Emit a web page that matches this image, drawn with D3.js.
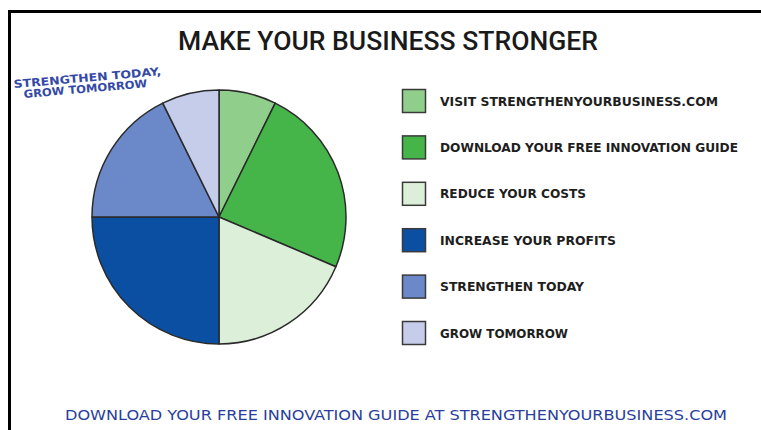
<!DOCTYPE html>
<html>
<head>
<meta charset="utf-8">
<script src="https://cdn.jsdelivr.net/npm/d3@7"></script>
<style>
  body { margin: 0; background: #fff; }
  svg { display: block; }
</style>
</head>
<body>
<div id="chart"></div>
<script>
// data
let categories = ["VISIT STRENGTHENYOURBUSINESS.COM", "DOWNLOAD YOUR FREE INNOVATION GUIDE",
  "REDUCE YOUR COSTS", "INCREASE YOUR PROFITS", "STRENGTHEN TODAY", "GROW TOMORROW"];
let values = [7.3, 24.1, 18.6, 25, 17.7, 7.3];
let colors = ["#8fcf8b", "#45b54a", "#dcefd8", "#0b4fa3", "#6b88c9", "#c6cdea"];
let title = "MAKE YOUR BUSINESS STRONGER";
let note = ["STRENGTHEN TODAY,", "GROW TOMORROW"];
let footer = "DOWNLOAD YOUR FREE INNOVATION GUIDE AT STRENGTHENYOURBUSINESS.COM";

let width = 761, height = 430;
let cx = 219, cy = 217, radius = 127;

let data = categories.map((c, i) => ({name: c, value: values[i], color: colors[i]}));

let svg = d3.select("#chart").append("svg")
  .attr("width", width)
  .attr("height", height);

// frame (runs off the right and bottom)
svg.append("path")
  .attr("d", "M9.5," + (height + 5) + "V11.5H" + (width + 5))
  .attr("fill", "none")
  .attr("stroke", "#000")
  .attr("stroke-width", 3);

// title
svg.append("text")
  .attr("x", 178).attr("y", 50)
  .attr("textLength", 420).attr("lengthAdjust", "spacingAndGlyphs")
  .attr("font-family", "Roboto, DejaVu Sans Condensed")
  .attr("font-weight", 500)
  .attr("font-size", 25)
  .attr("fill", "#1a1a1a")
  .text(title);

// pie
let pie = d3.pie().sort(null).value(d => d.value);
let arc = d3.arc().innerRadius(0).outerRadius(radius);

svg.append("g")
  .attr("transform", "translate(" + cx + "," + cy + ")")
  .selectAll("path")
  .data(pie(data))
  .join("path")
  .attr("d", arc)
  .attr("fill", d => d.data.color)
  .attr("stroke", "#2a2a2a")
  .attr("stroke-width", 1.5)
  .attr("stroke-linejoin", "round");

// legend
let y = d3.scalePoint().domain(categories).range([101, 333]);
let lg = svg.append("g").selectAll("g")
  .data(data)
  .join("g")
  .attr("transform", d => "translate(402," + y(d.name) + ")");

lg.append("rect")
  .attr("x", 0.5).attr("y", -11.5)
  .attr("width", 23).attr("height", 23)
  .attr("fill", d => d.color)
  .attr("stroke", "#3a3a3a")
  .attr("stroke-width", 1.5);

let legendWidths = [278, 298, 146, 176, 144, 128];
lg.append("text")
  .attr("x", 38).attr("y", 4.5)
  .attr("textLength", (d, i) => legendWidths[i])
  .attr("lengthAdjust", "spacingAndGlyphs")
  .attr("font-family", "DejaVu Sans Condensed, DejaVu Sans")
  .attr("font-weight", "bold")
  .attr("font-size", 12)
  .attr("fill", "#1e1e1e")
  .text(d => d.name);

// handwritten note
let hand = svg.append("g")
  .attr("font-family", "DejaVu Sans Condensed, DejaVu Sans")
  .attr("font-weight", "bold")
  .attr("font-size", 11)
  .attr("fill", "#3449a6");
hand.append("text")
  .attr("transform", "translate(14,88) rotate(-5)")
  .attr("textLength", 148).attr("lengthAdjust", "spacingAndGlyphs")
  .text(note[0]);
hand.append("text")
  .attr("transform", "translate(24,98) rotate(-5)")
  .attr("textLength", 124).attr("lengthAdjust", "spacingAndGlyphs")
  .text(note[1]);

// footer
svg.append("text")
  .attr("x", 65).attr("y", 420)
  .attr("textLength", 662).attr("lengthAdjust", "spacingAndGlyphs")
  .attr("font-family", "DejaVu Sans Condensed, DejaVu Sans")
  .attr("font-size", 13.5)
  .attr("fill", "#2a3f9c")
  .text(footer);
</script>
</body>
</html>
